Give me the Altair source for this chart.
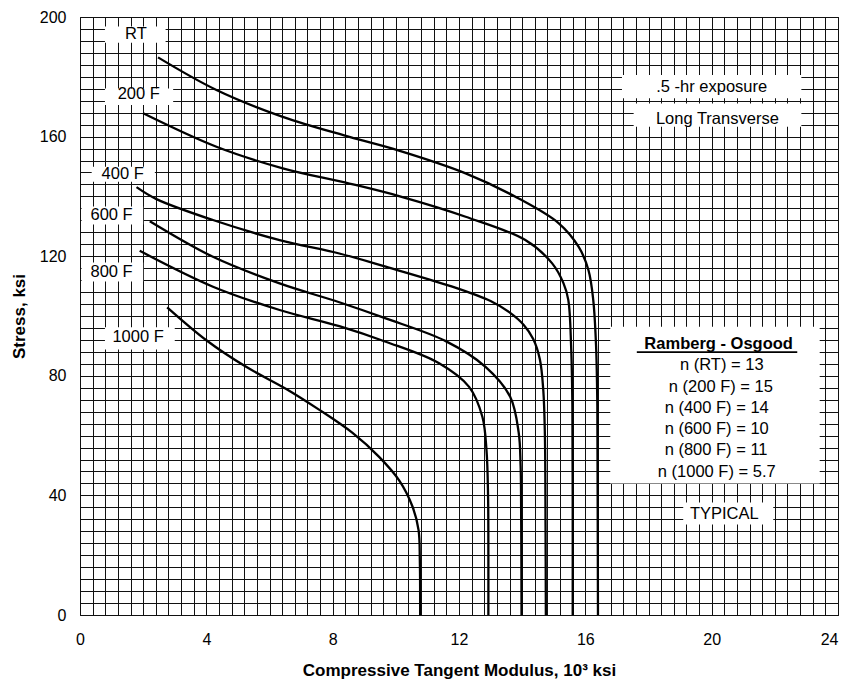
import altair as alt
import pandas as pd

# ---- curve data (Compressive tangent modulus, 10^3 ksi  vs  Stress, ksi) ----
rt_x = [2.47, 4.32, 6.42, 8.53, 10.1, 12.21, 13.89, 15.16, 15.79, 16.1, 16.25, 16.34, 16.38, 16.39, 16.4]
rt_y = [186.5, 175.6, 166.6, 159.9, 155.3, 147.7, 139.3, 131.0, 123.1, 115.3, 105.4, 90, 70, 40, 0]

f200_x = [2.0, 4.32, 6.42, 8.53, 10.1, 12.21, 14.1, 14.95, 15.31, 15.46, 15.55, 15.59, 15.6, 15.6]
f200_y = [167.8, 156.6, 149.4, 144.3, 140.1, 133.2, 125.4, 117.6, 110.9, 105.4, 90, 70, 40, 0]

f400_x = [1.79, 2.42, 4.21, 6.32, 8.21, 9.68, 11.79, 13.0, 13.6, 14.05, 14.35, 14.56, 14.67, 14.72, 14.74, 14.75]
f400_y = [143.1, 139.1, 132.1, 125.4, 120.9, 116.5, 109.8, 105.0, 101.2, 97.0, 92.3, 85.5, 75, 60, 30, 0]

f600_x = [2.21, 4.21, 6.32, 8.21, 9.68, 11.58, 12.84, 13.62, 13.89, 13.95, 13.97, 13.98]
f600_y = [131.7, 119.8, 110.9, 104.6, 99.2, 91.6, 83.0, 73.0, 61.0, 50, 30, 0]

f800_x = [1.89, 4.21, 6.32, 8.21, 9.68, 11.37, 12.32, 12.74, 12.87, 12.92, 12.93, 12.93]
f800_y = [121.8, 109.8, 102.0, 96.6, 91.4, 84.2, 76.3, 66.3, 55.2, 40, 20, 0]

f1000_x = [2.76, 4.0, 5.26, 6.53, 7.58, 8.63, 9.47, 10.1, 10.53, 10.72, 10.76, 10.77]
f1000_y = [102.9, 91.9, 83.0, 75.6, 68.6, 60.9, 52.9, 45.1, 36.2, 28.4, 18.3, 0]

series_names = ["RT", "200 F", "400 F", "600 F", "800 F", "1000 F"]
series_x = [rt_x, f200_x, f400_x, f600_x, f800_x, f1000_x]
series_y = [rt_y, f200_y, f400_y, f600_y, f800_y, f1000_y]

# curve labels (text, x, y) and their white boxes (x1, x2, y1, y2)
label_text = ["RT", "200 F", "400 F", "600 F", "800 F", "1000 F",
              ".5 -hr exposure", "Long Transverse", "TYPICAL"]
label_x = [1.77, 1.86, 1.35, 1.0, 1.0, 1.84, 20.0, 20.18, 20.4]
label_y = [194.4, 174.2, 147.5, 133.8, 114.6, 93.1, 176.5, 165.9, 33.9]
box_x1 = [0.79, 0.79, 0.37, 0.05, 0.05, 0.79, 17.16, 17.53, 19.1]
box_x2 = [2.71, 2.95, 2.37, 2.0, 2.0, 3.0, 22.84, 22.84, 21.95]
box_y1 = [196.8, 176.1, 149.9, 136.6, 117.9, 96.2, 180.6, 171.1, 37.6]
box_y2 = [191.4, 170.6, 144.9, 130.6, 111.5, 88.8, 172.8, 163.3, 30.3]

# Ramberg-Osgood legend block
ro_title = "Ramberg - Osgood"
ro_lines = ["n (RT) = 13", "n (200 F) = 15", "n (400 F) = 14",
            "n (600 F) = 10", "n (800 F) = 11", "n (1000 F) = 5.7"]
ro_line_x = [20.32, 20.29, 20.16, 20.16, 20.14, 20.16]
ro_line_y = [83.6, 76.4, 69.3, 62.2, 55.2, 47.9]
ro_box = dict(x1=16.79, x2=23.42, y1=96.4, y2=44.0)
ro_title_pos = dict(x=20.22, y=90.8)
ro_underline = dict(x1=17.63, x2=22.71, y=87.9)

# ---- build tables (common field names so all layers share one axis) ----
rows = []
for name, xs, ys in zip(series_names, series_x, series_y):
    for i, (xv, yv) in enumerate(zip(xs, ys)):
        rows.append({"series": name, "E": xv, "S": yv, "ord": i})
curves = pd.DataFrame(rows)

boxes = pd.DataFrame({"E": box_x1 + [ro_box["x1"]], "E2": box_x2 + [ro_box["x2"]],
                      "S": box_y1 + [ro_box["y1"]], "S2": box_y2 + [ro_box["y2"]]})
labels = pd.DataFrame({"t": label_text, "E": label_x, "S": label_y})
ro = pd.DataFrame({"t": ro_lines, "E": ro_line_x, "S": ro_line_y})
ro_t = pd.DataFrame({"t": [ro_title], "E": [ro_title_pos["x"]], "S": [ro_title_pos["y"]]})
ro_u = pd.DataFrame({"E": [ro_underline["x1"]], "E2": [ro_underline["x2"]], "S": [ro_underline["y"]]})

x_grid = [round(0.4 * i, 1) for i in range(61)]
y_grid = list(range(0, 201, 4))

FONT = "Liberation Sans"
xscale = alt.Scale(domain=[0, 24], nice=False, zero=False)
yscale = alt.Scale(domain=[0, 200], nice=False, zero=False)

X = alt.X("E:Q", scale=xscale,
          title="Compressive Tangent Modulus, 10³ ksi",
          axis=alt.Axis(values=x_grid, labelOverlap=False, labelFlush=False,
                        labelAlign={"condition": {"test": "datum.value >= 24", "value": "right"},
                                    "value": "center"},
                        labelExpr="datum.value % 4 == 0 ? '' + datum.value : ''",
                        labelPadding=16, titlePadding=15))
Y = alt.Y("S:Q", scale=yscale, title="Stress, ksi",
          axis=alt.Axis(values=y_grid, labelOverlap=False, labelFlush=False,
                        labelExpr="datum.value % 40 == 0 ? '' + datum.value : ''",
                        labelPadding=14, titlePadding=11))

lines = alt.Chart(curves).mark_line(
    color="black", strokeWidth=2.3, interpolate="catmull-rom"
).encode(x=X, y=Y, detail="series:N", order="ord:Q")

rects = alt.Chart(boxes).mark_rect(fill="white").encode(
    x=X, x2="E2", y=Y, y2="S2")

texts = alt.Chart(labels).mark_text(
    font=FONT, fontSize=16.5, color="black", align="center", baseline="middle"
).encode(x=X, y=Y, text="t:N")

ro_texts = alt.Chart(ro).mark_text(
    font=FONT, fontSize=16.5, color="black", align="center", baseline="middle"
).encode(x=X, y=Y, text="t:N")

ro_title_mark = alt.Chart(ro_t).mark_text(
    font=FONT, fontSize=16.5, fontWeight="bold", color="black", align="center", baseline="middle"
).encode(x=X, y=Y, text="t:N")

ro_rule = alt.Chart(ro_u).mark_rule(color="black", strokeWidth=1.7).encode(
    x=X, x2="E2", y=Y)

chart = alt.layer(lines, rects, texts, ro_texts, ro_title_mark, ro_rule).properties(
    width=758, height=598,
    autosize=alt.AutoSizeParams(type="none"),
    padding={"left": 72, "top": 9, "right": 1, "bottom": 66},
).configure_view(
    stroke="black", strokeWidth=1
).configure_axis(
    domain=False, ticks=False, grid=True, gridColor="#111", gridWidth=1, gridOpacity=1,
    labelFont=FONT, labelFontSize=16, labelColor="black",
    titleFont=FONT, titleFontSize=17, titleFontWeight="bold", titleColor="black",
)

chart.save("out.html", embed_options={"renderer": "svg", "actions": False})
